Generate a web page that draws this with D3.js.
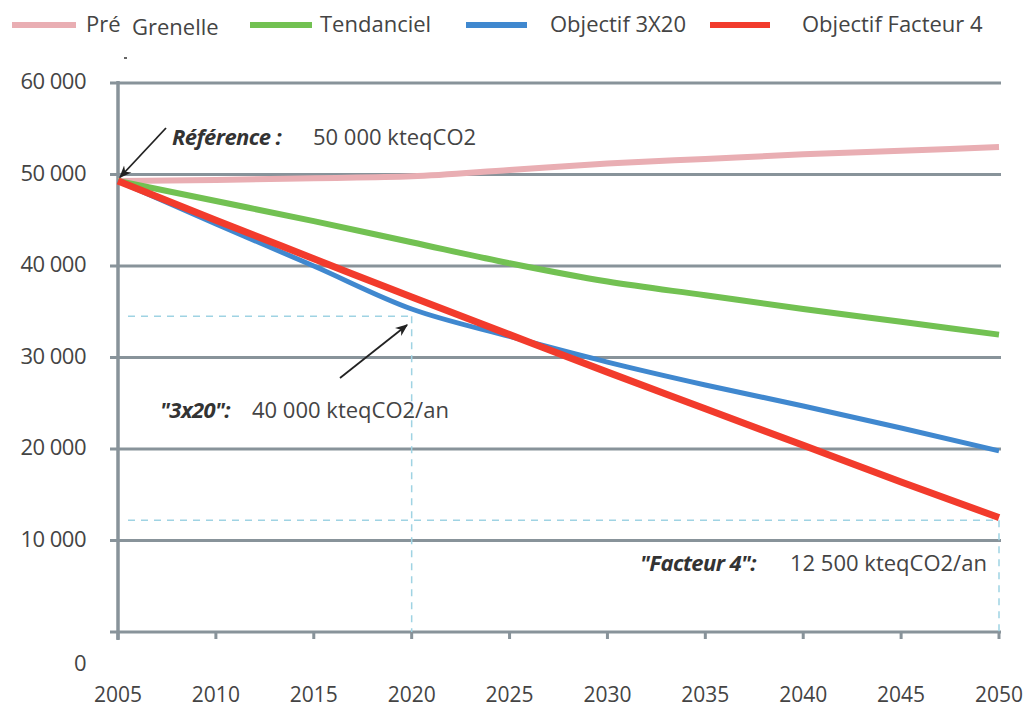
<!DOCTYPE html>
<html>
<head>
<meta charset="utf-8">
<script src="https://cdn.jsdelivr.net/npm/d3@7"></script>
<style>
  html, body { margin: 0; padding: 0; background: #fff; }
  svg { display: block; font-family: "Open Sans", "Noto Sans", sans-serif; }
</style>
</head>
<body>
<svg id="chart" width="1027" height="710"></svg>
<script>
// Emission scenarios, kteqCO2 per year
const years = [2005, 2010, 2015, 2020, 2025, 2030, 2035, 2040, 2045, 2050];
const preGrenelle = [49300, 49400, 49600, 49800, 50500, 51200, 51700, 52200, 52600, 53000];
const tendanciel  = [49300, 47100, 44900, 42600, 40300, 38300, 36800, 35300, 33900, 32500];
const objectif3x20 = [49300, 44600, 40000, 35300, 32300, 29500, 27000, 24700, 22300, 19800];
const facteur4    = [49300, 45000, 40800, 36600, 32500, 28400, 24400, 20400, 16400, 12500];

const yTicks = [0, 10000, 20000, 30000, 40000, 50000, 60000];
const xTicks = years;

const seriesNames = ["Pré Grenelle", "Tendanciel", "Objectif 3X20", "Objectif Facteur 4"];
const seriesColors = ["#e9aeb3", "#72c152", "#4088cf", "#f23b2c"];
const seriesWidths = [6, 6, 5, 7];
const seriesValues = [preGrenelle, tendanciel, objectif3x20, facteur4];

// Target guide values
const target3x20Year = 2020, target3x20Value = 34500;
const targetF4Year = 2050, targetF4Guide = 12200;

const svg = d3.select("#chart");
const x = d3.scaleLinear().domain([2005, 2050]).range([118, 999]);
const y = d3.scaleLinear().domain([0, 60000]).range([632, 83]);

const grey = "#88939a";
const textCol = "#444";
const fs = 22;
const fmt = v => v === 0 ? "0" : d3.format(",")(v).replace(/,/g, " ");

// horizontal gridlines
svg.append("g").selectAll("line").data(yTicks).join("line")
  .attr("x1", 110).attr("x2", 1001)
  .attr("y1", d => y(d)).attr("y2", d => y(d))
  .attr("stroke", grey).attr("stroke-width", 3);

// vertical axis line
svg.append("line").attr("x1", x(2005)).attr("x2", x(2005))
  .attr("y1", y(60000) - 2).attr("y2", y(0) + 8)
  .attr("stroke", grey).attr("stroke-width", 3.5);

// x ticks below the axis
svg.append("g").selectAll("line").data(xTicks).join("line")
  .attr("x1", d => x(d)).attr("x2", d => x(d))
  .attr("y1", y(0)).attr("y2", y(0) + 7)
  .attr("stroke", grey).attr("stroke-width", 3);

// y labels
svg.append("g").selectAll("text").data(yTicks).join("text")
  .attr("x", 86).attr("y", d => d === 0 ? 671 : y(d) + 6)
  .attr("text-anchor", "end").attr("font-size", fs).attr("fill", textCol)
  .attr("letter-spacing", -0.5)
  .text(fmt);

// x labels
svg.append("g").selectAll("text").data(xTicks).join("text")
  .attr("x", d => x(d)).attr("y", 702)
  .attr("text-anchor", "middle").attr("font-size", 21).attr("fill", textCol)
  .text(d => d);

// dashed target guides
const guide = svg.append("g").attr("stroke", "#9fd3e3").attr("stroke-width", 1.5)
  .attr("stroke-dasharray", "7,6").attr("fill", "none");
guide.append("line").attr("x1", x(2005) + 10).attr("x2", x(target3x20Year))
  .attr("y1", y(target3x20Value)).attr("y2", y(target3x20Value));
guide.append("line").attr("x1", x(target3x20Year)).attr("x2", x(target3x20Year))
  .attr("y1", y(target3x20Value)).attr("y2", y(0));
guide.append("line").attr("x1", x(2005) + 10).attr("x2", x(targetF4Year))
  .attr("y1", y(targetF4Guide)).attr("y2", y(targetF4Guide));
guide.append("line").attr("x1", x(targetF4Year)).attr("x2", x(targetF4Year))
  .attr("y1", y(targetF4Guide)).attr("y2", y(0));

// series lines
const line = d3.line().x((d, i) => x(years[i])).y(d => y(d)).curve(d3.curveMonotoneX);
seriesValues.forEach((vals, k) => {
  svg.append("path").datum(vals)
    .attr("d", line).attr("fill", "none")
    .attr("stroke", seriesColors[k]).attr("stroke-width", seriesWidths[k])
    .attr("stroke-linecap", "butt");
});

// arrows
const defs = svg.append("defs");
defs.append("marker").attr("id", "head").attr("viewBox", "0 0 10 10")
  .attr("refX", 9).attr("refY", 5).attr("markerWidth", 7).attr("markerHeight", 7)
  .attr("orient", "auto")
  .append("path").attr("d", "M0,1 L10,5 L0,9 L3,5 z").attr("fill", "#222");

svg.append("line").attr("x1", 166).attr("y1", 128).attr("x2", x(2005) + 2).attr("y2", y(49700))
  .attr("stroke", "#222").attr("stroke-width", 1.8).attr("marker-end", "url(#head)");
svg.append("line").attr("x1", 340).attr("y1", 378).attr("x2", 407).attr("y2", 325)
  .attr("stroke", "#222").attr("stroke-width", 1.8).attr("marker-end", "url(#head)");

// annotations
function note(xp, yp, bold, rest, restX) {
  svg.append("text").attr("x", xp).attr("y", yp)
    .attr("font-size", fs).attr("font-weight", "bold").attr("font-style", "italic")
    .attr("fill", "#333").attr("letter-spacing", -0.6).text(bold);
  svg.append("text").attr("x", restX).attr("y", yp)
    .attr("font-size", fs).attr("fill", textCol).text(rest);
}
note(172, 145, "Référence :", "50 000 kteqCO2", 313);
note(160, 418, "\"3x20\":", "40 000 kteqCO2/an", 252);
note(640, 571, "\"Facteur 4\":", "12 500 kteqCO2/an", 790);

// legend
const legend = [
  { x1: 12, x2: 76, tx: 86 },
  { x1: 250, x2: 312, tx: 320 },
  { x1: 466, x2: 527, tx: 550 },
  { x1: 710, x2: 770, tx: 802 }
];
legend.forEach((l, k) => {
  svg.append("line").attr("x1", l.x1).attr("x2", l.x2).attr("y1", 25).attr("y2", 25)
    .attr("stroke", seriesColors[k]).attr("stroke-width", 6);
});
svg.append("text").attr("x", legend[0].tx).attr("y", 32).attr("font-size", fs).attr("fill", textCol).text("Pré");
svg.append("text").attr("x", 132).attr("y", 35).attr("font-size", fs).attr("fill", textCol).text("Grenelle");
[1, 2, 3].forEach(k => {
  svg.append("text").attr("x", legend[k].tx).attr("y", 32).attr("font-size", fs).attr("fill", textCol).text(seriesNames[k]);
});
svg.append("rect").attr("x", 124).attr("y", 57).attr("width", 3).attr("height", 2).attr("fill", "#666");
</script>
</body>
</html>
